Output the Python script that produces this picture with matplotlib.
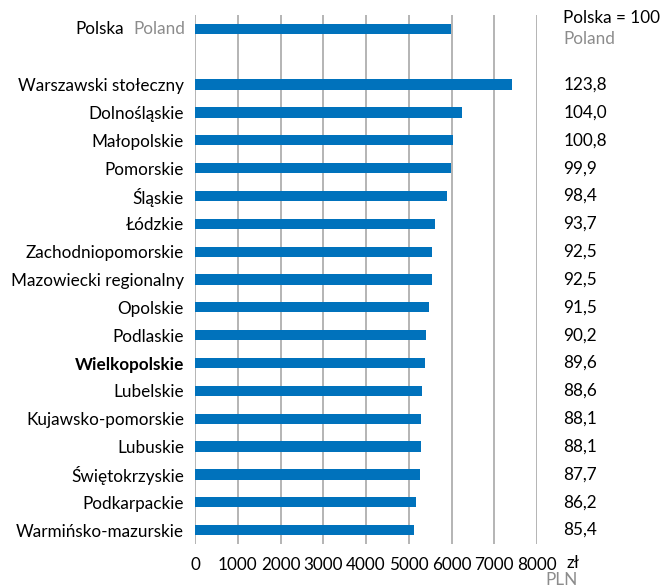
import matplotlib.pyplot as plt
from matplotlib.transforms import offset_copy

plt.rcParams['font.family'] = ['Lato', 'DejaVu Sans']

regions = ["Warszawski stołeczny", "Dolnośląskie", "Małopolskie", "Pomorskie",
           "Śląskie", "Łódzkie", "Zachodniopomorskie", "Mazowiecki regionalny",
           "Opolskie", "Podlaskie", "Wielkopolskie", "Lubelskie",
           "Kujawsko-pomorskie", "Lubuskie", "Świętokrzyskie", "Podkarpackie",
           "Warmińsko-mazurskie"]
wages = [7420, 6240, 6040, 5985, 5895, 5615, 5545, 5545, 5485, 5405,
         5370, 5310, 5280, 5280, 5255, 5165, 5115]
index_pl = ["123,8", "104,0", "100,8", "99,9", "98,4", "93,7", "92,5", "92,5",
            "91,5", "90,2", "89,6", "88,6", "88,1", "88,1", "87,7", "86,2", "85,4"]
poland_wage = 5990
xticks = [0, 1000, 2000, 3000, 4000, 5000, 6000, 7000, 8000]

blue = '#0072bc'
grey = '#8c8c8c'
fs = 12.3

fig = plt.figure(figsize=(6.61, 5.87), dpi=100)
ax = fig.add_axes([195 / 661, 1 - 544 / 587, (537 - 195) / 661, (544 - 15) / 587])

ypos = list(range(2, 2 + len(regions)))
ax.barh([0], [poland_wage], height=0.37, color=blue, zorder=3)
ax.barh(ypos, wages, height=0.37, color=blue, zorder=3)

ax.set_xlim(0, 8000)
ax.set_ylim(len(regions) + 1.5, -0.5)
ax.set_xticks(xticks)
ax.set_xticklabels([str(t) for t in xticks], fontsize=fs)
ax.set_yticks(ypos)
ax.set_yticklabels(regions, fontsize=fs)
for lab in ax.get_yticklabels():
    if lab.get_text() == "Wielkopolskie":
        lab.set_fontweight('bold')
ax.tick_params(length=0, pad=8)
ax.tick_params(axis='x', pad=9)
for s in ax.spines.values():
    s.set_visible(False)
ax.grid(axis='x', color='#a0a0a0', linewidth=1.1, zorder=0)
ax.set_axisbelow(True)

# Poland row label: "Polska" black + "Poland" grey
t_en = ax.text(0, 0, "Poland", color=grey, fontsize=fs, ha='right', va='center',
               transform=offset_copy(ax.get_yaxis_transform(), fig=fig, x=-7, y=0, units='points'))
fig.canvas.draw()
w_en = t_en.get_window_extent().width * 72 / fig.dpi
ax.text(0, 0, "Polska", color='black', fontsize=fs, ha='right', va='center',
        transform=offset_copy(ax.get_yaxis_transform(), fig=fig, x=-7 - w_en - 7, y=0, units='points'))

# right column with index values
for y, v in zip(ypos, index_pl):
    ax.text(1.077, y, v, fontsize=fs, ha='left', va='center',
            transform=ax.get_yaxis_transform())
fig.text(563 / 661, 1 - 18 / 587, "Polska = 100", fontsize=fs, ha='left', va='center')
fig.text(563 / 661, 1 - 39 / 587, "Poland", fontsize=fs, color=grey, ha='left', va='center')
fig.text(567 / 661, 1 - 563 / 587, "zł", fontsize=fs, ha='left', va='center')
fig.text(545 / 661, 1 - 580 / 587, "PLN", fontsize=fs, color=grey, ha='left', va='center')

fig.savefig("out.png", dpi=100)
